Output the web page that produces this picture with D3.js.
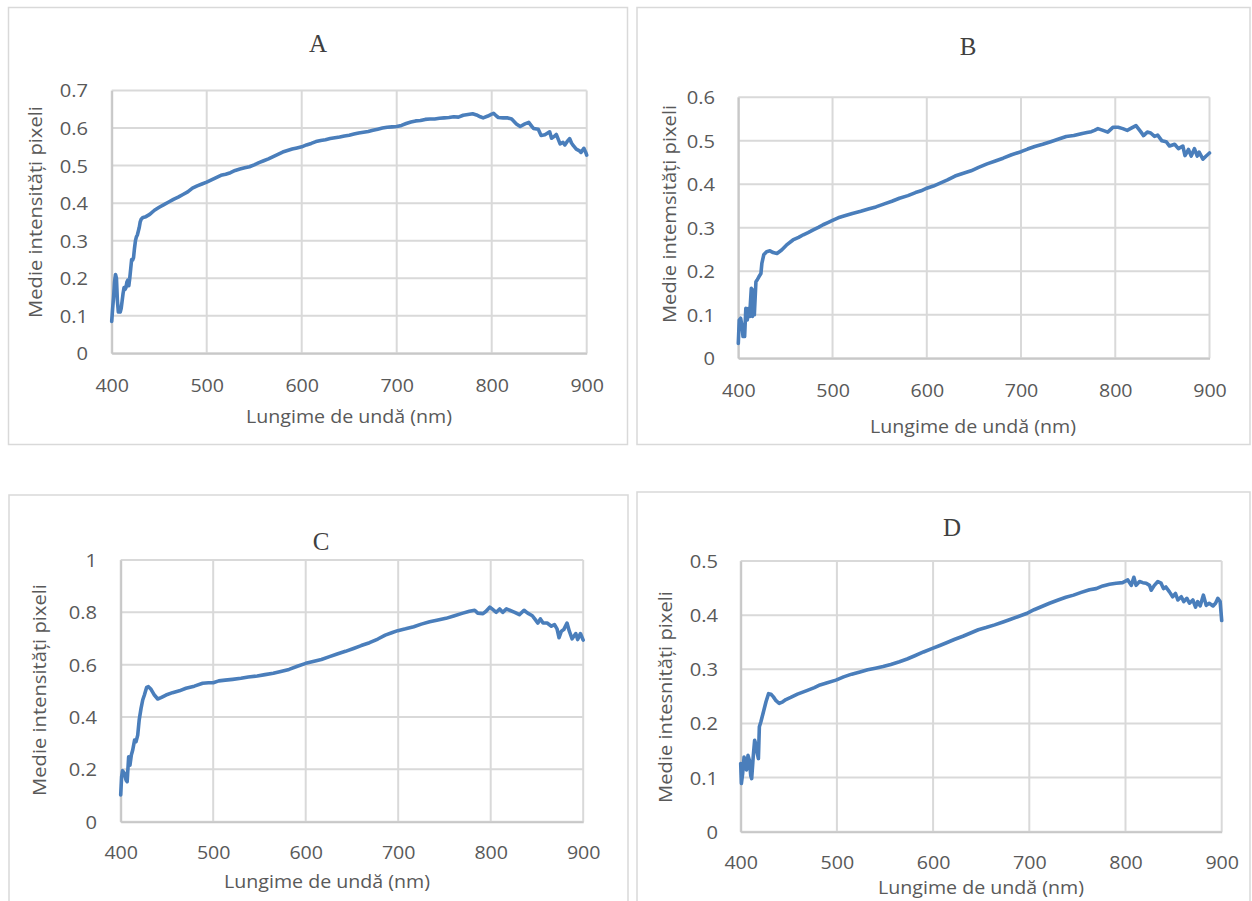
<!DOCTYPE html>
<html>
<head>
<meta charset="utf-8">
<script src="https://cdn.jsdelivr.net/npm/d3@7/dist/d3.min.js"></script>
<style>
  html, body { margin: 0; padding: 0; background: #ffffff; }
  svg { display: block; }
</style>
</head>
<body>
<svg id="chart" width="1252" height="901"></svg>
<script>
// ---- Spectra: mean pixel intensity vs. wavelength (nm) ----
const wavelengthA = [400,401,402,403,404,405,406,407,408,409,410,411,412,413,414,415,416,417,418,419,420,421,422,423,424,425,426,427,428,429,430,431,433,436,440,445,450,455,460,465,470,475,480,485,490,495,500,505,510,515,520,525,530,535,540,545,550,555,560,565,570,575,580,585,590,595,600,605,610,615,620,625,630,635,640,645,650,655,660,665,670,675,680,685,690,695,700,705,710,715,720,725,730,735,740,745,750,755,760,765,770,775,780,784,788,791,796,800,802,805,807,812,817,821,826,830,835,839,842,844,849,852,856,861,863,866,868,872,875,877,880,882,884,886,889,892,894,897,899,900];
const intensityA  = [0.085,0.12,0.15,0.19,0.21,0.20,0.14,0.11,0.115,0.11,0.12,0.14,0.16,0.175,0.17,0.175,0.19,0.195,0.18,0.20,0.225,0.25,0.248,0.255,0.28,0.30,0.31,0.315,0.325,0.335,0.35,0.357,0.362,0.364,0.37,0.381,0.389,0.396,0.403,0.41,0.416,0.423,0.43,0.44,0.446,0.451,0.456,0.462,0.468,0.474,0.477,0.481,0.487,0.491,0.494,0.497,0.502,0.508,0.513,0.518,0.524,0.53,0.536,0.54,0.544,0.547,0.55,0.555,0.559,0.564,0.567,0.569,0.572,0.574,0.576,0.579,0.581,0.584,0.587,0.589,0.591,0.594,0.597,0.60,0.602,0.603,0.604,0.607,0.612,0.616,0.619,0.62,0.623,0.624,0.624,0.626,0.627,0.628,0.63,0.629,0.634,0.636,0.638,0.635,0.63,0.627,0.632,0.637,0.639,0.632,0.628,0.627,0.627,0.624,0.611,0.604,0.611,0.615,0.605,0.599,0.597,0.58,0.582,0.59,0.573,0.578,0.583,0.558,0.562,0.555,0.566,0.572,0.56,0.553,0.544,0.54,0.535,0.546,0.535,0.528];

const wavelengthB = [400,401,402.5,404,405,406.7,408,409.5,411,412,413.8,415,416,417,418.7,420,422,424,425,427,430,433.6,437,441,446,451,458,464,469,474,479.5,485,490,495,500,506,512,521,530,538,546,555,563,571,580,588,594,600,607,613.6,622,630,638,647,655,664,672,681,690,700,707,714.6,723,731.5,740,748,756,765,770,774.6,778,781.6,787,792,797.5,803,808,812.7,817,822,827,830,834,837.6,841.7,845,849.5,854,857.6,863,867,871.7,874,877.7,880.6,884,887,889,893,896.5,900];
const intensityB  = [0.034,0.088,0.092,0.073,0.05,0.05,0.115,0.088,0.115,0.096,0.161,0.096,0.157,0.10,0.176,0.18,0.188,0.195,0.218,0.238,0.245,0.247,0.243,0.241,0.249,0.26,0.272,0.278,0.284,0.289,0.295,0.301,0.307,0.312,0.317,0.323,0.327,0.333,0.338,0.343,0.348,0.355,0.361,0.368,0.374,0.381,0.385,0.391,0.396,0.402,0.41,0.419,0.425,0.431,0.439,0.447,0.453,0.46,0.468,0.475,0.481,0.487,0.492,0.498,0.504,0.51,0.512,0.517,0.519,0.521,0.524,0.528,0.524,0.52,0.531,0.531,0.528,0.524,0.529,0.535,0.521,0.512,0.52,0.518,0.51,0.513,0.50,0.498,0.488,0.492,0.482,0.488,0.466,0.48,0.465,0.482,0.465,0.474,0.458,0.465,0.472];

const wavelengthC = [400,401,402,404,405.8,407,408.6,410,411.5,413,415,416.6,418.4,420,422,423.8,425.6,428,430,432.8,436.4,440,443.6,449,456,463.4,470.6,479.6,488.6,495,500,506,513,521,530,538,547.6,556,565,573,582,591,600,608,617,625,634,643,651.7,660,669,678,686,693,699.5,708,716.8,725,734,743,751.6,760,769,777,782.7,786,791.7,795,799,802.5,806,809.7,813,817,820.5,826,831,836,840,845,847.6,851,853.7,856.6,861,865.6,869,871.7,873.9,876.4,879,882.5,885,888,892,894,897,900];
const intensityC  = [0.102,0.172,0.195,0.185,0.159,0.153,0.248,0.216,0.255,0.274,0.312,0.306,0.331,0.389,0.433,0.465,0.484,0.513,0.516,0.506,0.484,0.469,0.474,0.484,0.493,0.50,0.51,0.518,0.529,0.531,0.531,0.538,0.541,0.544,0.548,0.553,0.557,0.562,0.567,0.574,0.582,0.594,0.605,0.612,0.62,0.63,0.641,0.651,0.662,0.673,0.684,0.698,0.713,0.722,0.73,0.737,0.745,0.755,0.764,0.771,0.777,0.786,0.796,0.804,0.808,0.797,0.795,0.804,0.82,0.81,0.80,0.813,0.80,0.813,0.808,0.80,0.791,0.808,0.797,0.787,0.775,0.759,0.775,0.759,0.759,0.747,0.753,0.737,0.703,0.728,0.734,0.759,0.728,0.699,0.719,0.696,0.719,0.694];

const wavelengthD = [400,400.7,402,403.5,405,406,407.6,409,410.4,411.4,413,414.5,416,417.3,418.4,419.4,421,423.6,426.3,429,431.5,434,436.7,440,443.7,447,452,459,468,476.6,482.4,490,499,507,515.4,524,532,540,548,556,565,573,581,590,600,607,614,622,631,639,647,655,664,672,680,688,697,705,713,721,730,738,746,754,762.6,769.5,776.4,783.4,790.3,797,802.4,806,808.7,811,814.6,818,821.5,825,826.7,830,833.6,837,839.5,842,845.7,849,852,854.4,858,860.6,863.8,866.5,870,872.8,875,877.6,881,883.9,887,891,893.6,896,898.4,899.4,900];
const intensityD  = [0.126,0.089,0.107,0.138,0.123,0.114,0.141,0.132,0.104,0.098,0.138,0.169,0.16,0.144,0.135,0.194,0.203,0.221,0.24,0.255,0.254,0.249,0.242,0.237,0.24,0.244,0.248,0.254,0.26,0.266,0.271,0.275,0.28,0.286,0.291,0.295,0.299,0.302,0.305,0.309,0.314,0.319,0.325,0.332,0.339,0.344,0.349,0.355,0.361,0.367,0.373,0.377,0.382,0.387,0.392,0.397,0.403,0.41,0.416,0.422,0.428,0.433,0.437,0.442,0.447,0.449,0.454,0.457,0.459,0.46,0.465,0.455,0.47,0.455,0.462,0.46,0.459,0.455,0.446,0.455,0.462,0.459,0.449,0.452,0.443,0.434,0.44,0.428,0.434,0.425,0.431,0.422,0.428,0.415,0.425,0.417,0.437,0.418,0.422,0.417,0.422,0.431,0.425,0.403,0.39];

// ---- Axis ticks ----
const xTicks  = [400, 500, 600, 700, 800, 900];
const yTicksA = [0, 0.1, 0.2, 0.3, 0.4, 0.5, 0.6, 0.7];
const yTicksB = [0, 0.1, 0.2, 0.3, 0.4, 0.5, 0.6];
const yTicksC = [0, 0.2, 0.4, 0.6, 0.8, 1];
const yTicksD = [0, 0.1, 0.2, 0.3, 0.4, 0.5];

// ---- Labels ----
const panelTitles = ["A", "B", "C", "D"];
const xAxisTitle = "Lungime de undă (nm)";
const yAxisTitles = [
  "Medie intensități pixeli",
  "Medie intemsități pixeli",
  "Medie intensități pixeli",
  "Medie intesnități pixeli"
];

// ---- Layout of the four panels ----
const panels = [
  { title: panelTitles[0], yTitle: yAxisTitles[0], wl: wavelengthA, val: intensityA, yTicks: yTicksA,
    frame: [8.5, 7.5, 619, 437], px: [111.7, 586.7], py: [353.3, 90.5],
    titlePos: [318, 52], yTitlePos: [36, 212], xTitlePos: [349, 423], xTickBase: 392, yTickRight: 88 },
  { title: panelTitles[1], yTitle: yAxisTitles[1], wl: wavelengthB, val: intensityB, yTicks: yTicksB,
    frame: [637, 7.5, 613, 437], px: [738.3, 1209.5], py: [358.3, 97.3],
    titlePos: [968, 55], yTitlePos: [670, 214], xTitlePos: [973, 433], xTickBase: 397, yTickRight: 715 },
  { title: panelTitles[2], yTitle: yAxisTitles[2], wl: wavelengthC, val: intensityC, yTicks: yTicksC,
    frame: [9, 495, 619, 420], px: [120.7, 583.2], py: [821.7, 560],
    titlePos: [321, 550], yTitlePos: [40, 690], xTitlePos: [327, 888], xTickBase: 859, yTickRight: 97 },
  { title: panelTitles[3], yTitle: yAxisTitles[3], wl: wavelengthD, val: intensityD, yTicks: yTicksD,
    frame: [637, 492, 613, 420], px: [740.7, 1221.7], py: [831.7, 561],
    titlePos: [952, 536], yTitlePos: [666, 697], xTitlePos: [981, 894], xTickBase: 869, yTickRight: 718 }
];

const SANS = "'Open Sans', 'Noto Sans', sans-serif";
const SERIF = "'Liberation Serif', 'DejaVu Serif', serif";
const TEXT = "#595959";
const GRID = "#d9d9d9";
const LINE = "#4a7ebb";
const SX = 1.09; // horizontal stretch of the sans labels

const svg = d3.select("#chart");

panels.forEach(p => {
  const g = svg.append("g");

  // chart frame
  g.append("rect")
    .attr("x", p.frame[0]).attr("y", p.frame[1])
    .attr("width", p.frame[2]).attr("height", p.frame[3])
    .attr("fill", "#fff").attr("stroke", GRID).attr("stroke-width", 1.5);

  const yMax = p.yTicks[p.yTicks.length - 1];
  const x = d3.scaleLinear().domain([400, 900]).range(p.px);
  const y = d3.scaleLinear().domain([0, yMax]).range(p.py);

  // horizontal gridlines
  g.append("g")
    .selectAll("line").data(p.yTicks).join("line")
    .attr("x1", p.px[0]).attr("x2", p.px[1])
    .attr("y1", d => y(d)).attr("y2", d => y(d))
    .attr("stroke", GRID).attr("stroke-width", 2);

  // vertical gridlines
  g.append("g")
    .selectAll("line").data(xTicks).join("line")
    .attr("x1", d => x(d)).attr("x2", d => x(d))
    .attr("y1", p.py[0]).attr("y2", p.py[1])
    .attr("stroke", GRID).attr("stroke-width", 2);

  // y axis labels
  const yAxis = g.append("g")
    .attr("transform", `translate(${p.px[0]},0)`)
    .call(d3.axisLeft(y).tickValues(p.yTicks).tickSize(0).tickFormat(d3.format("~g")));
  yAxis.select(".domain").attr("stroke", "#c8c8c8").attr("stroke-width", 2);
  yAxis.selectAll("text")
    .attr("x", -(p.px[0] - p.yTickRight) / SX)
    .attr("dy", "0.35em")
    .attr("transform", `scale(${SX},1)`)
    .attr("fill", TEXT)
    .style("font-family", SANS).style("font-size", "18.5px");

  // x axis labels
  const xAxis = g.append("g")
    .attr("transform", `translate(0,${p.py[0]})`)
    .call(d3.axisBottom(x).tickValues(xTicks).tickSize(0).tickFormat(d3.format("d")));
  xAxis.select(".domain").attr("stroke", "#c8c8c8").attr("stroke-width", 2);
  xAxis.selectAll("text")
    .attr("y", p.xTickBase - p.py[0])
    .attr("dy", 0)
    .attr("transform", `scale(${SX},1)`)
    .attr("x", 0)
    .attr("fill", TEXT)
    .style("font-family", SANS).style("font-size", "18px");

  // spectrum line
  const line = d3.line()
    .x((d, i) => x(p.wl[i]))
    .y(d => y(d))
    .curve(d3.curveLinear);
  g.append("path")
    .datum(p.val)
    .attr("d", line)
    .attr("fill", "none")
    .attr("stroke", LINE)
    .attr("stroke-width", 3.6)
    .attr("stroke-linejoin", "round")
    .attr("stroke-linecap", "round");

  // panel title
  g.append("text")
    .attr("x", p.titlePos[0]).attr("y", p.titlePos[1])
    .attr("text-anchor", "middle")
    .attr("fill", "#404040")
    .style("font-family", SERIF).style("font-size", "25px")
    .text(p.title);

  // x axis title
  g.append("text")
    .attr("transform", `translate(${p.xTitlePos[0]},${p.xTitlePos[1]}) scale(${SX},1)`)
    .attr("text-anchor", "middle")
    .attr("fill", TEXT)
    .style("font-family", SANS).style("font-size", "18px")
    .text(xAxisTitle);

  // y axis title
  g.append("text")
    .attr("transform", `translate(${p.yTitlePos[0]},${p.yTitlePos[1]}) rotate(-90) scale(${SX},1)`)
    .attr("text-anchor", "middle")
    .attr("dy", "0.35em")
    .attr("fill", TEXT)
    .style("font-family", SANS).style("font-size", "18.5px")
    .text(p.yTitle);
});
</script>
</body>
</html>
